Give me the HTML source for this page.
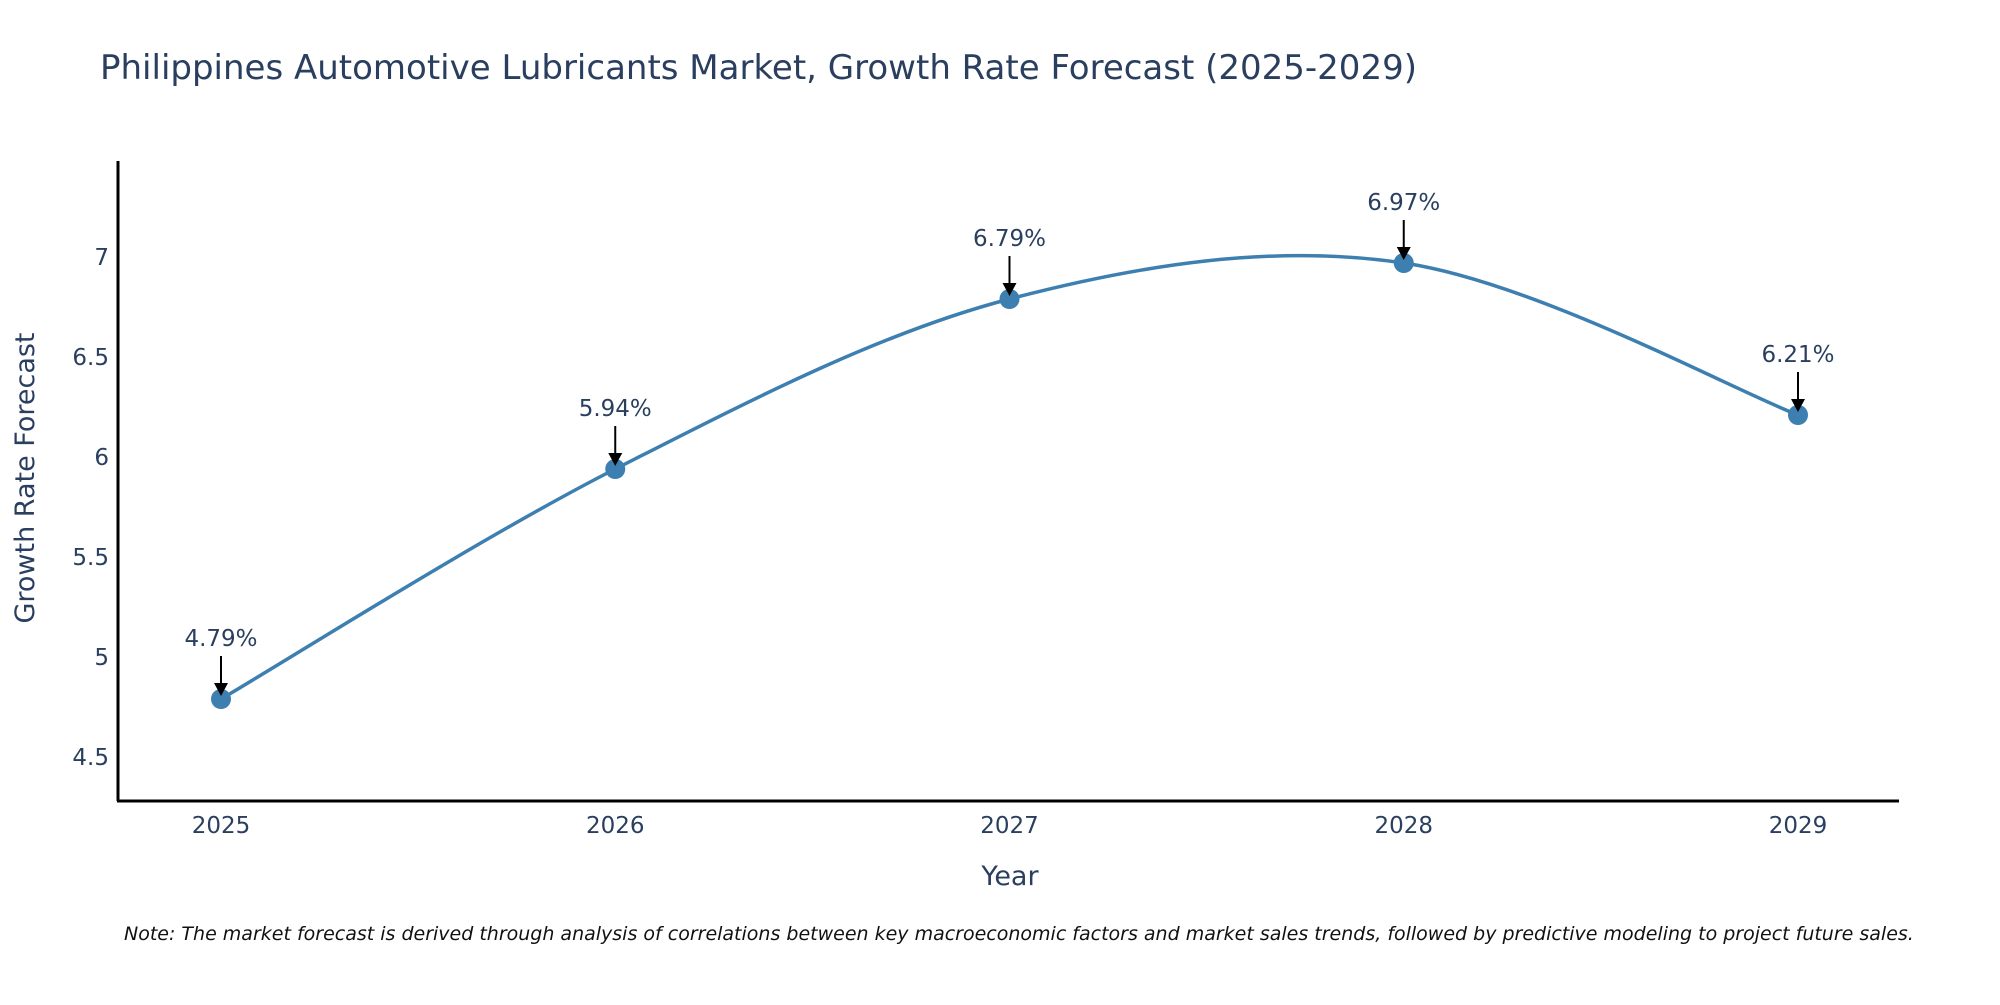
<!DOCTYPE html>
<html><head><meta charset="utf-8"><style>
body{margin:0;background:#fff;}
svg text{font-family:"DejaVu Sans","Liberation Sans",sans-serif;}
</style></head><body>
<svg id="chart" width="2000" height="1000" xmlns="http://www.w3.org/2000/svg">
<text x="100" y="79" font-size="34" fill="#2a3f5f">Philippines Automotive Lubricants Market, Growth Rate Forecast (2025-2029)</text>
<g id="yticks"></g>
<g id="xticks"></g>
<path id="line" fill="none" stroke="#3d7fb0" stroke-width="3.5"/>
<g id="points"></g>
<g id="annots"></g>
<line x1="118" y1="161" x2="118" y2="801" stroke="#000" stroke-width="3"/>
<line x1="117" y1="801" x2="1899" y2="801" stroke="#000" stroke-width="3"/>
<text transform="translate(34,478) rotate(-90)" text-anchor="middle" font-size="27" fill="#2a3f5f">Growth Rate Forecast</text>
<text x="1010" y="885" text-anchor="middle" font-size="27" fill="#2a3f5f">Year</text>
<text x="124" y="940" font-size="19" font-style="italic" fill="#111">Note: The market forecast is derived through analysis of correlations between key macroeconomic factors and market sales trends, followed by predictive modeling to project future sales.</text>
</svg>
<script>
const years = [2025, 2026, 2027, 2028, 2029];
const values = [4.79, 5.94, 6.79, 6.97, 6.21];
const labels = ["4.79%", "5.94%", "6.79%", "6.97%", "6.21%"];
const yTickValues = [4.5, 5, 5.5, 6, 6.5, 7];
const yTickLabels = ["4.5", "5", "5.5", "6", "6.5", "7"];

const NS = "http://www.w3.org/2000/svg";
function X(yr){ return 221 + (yr - 2025) * 394.25; }
function Y(v){ return 757 - (v - 4.5) * 200; }
function mk(tag, attrs, parent, txt){
  const e = document.createElementNS(NS, tag);
  for (const k in attrs) e.setAttribute(k, attrs[k]);
  if (txt !== undefined) e.textContent = txt;
  parent.appendChild(e); return e;
}
const yt = document.getElementById('yticks');
yTickValues.forEach((v,i)=>{
  const t = mk('text', {x:109, y:Y(v)+8, 'text-anchor':'end', 'font-size':23, fill:'#2a3f5f'}, yt, yTickLabels[i]);
  
  
});
const xt = document.getElementById('xticks');
years.forEach(yr=>{
  const t = mk('text', {x:X(yr), y:833, 'text-anchor':'middle', 'font-size':23, fill:'#2a3f5f'}, xt, String(yr));
  
  
});
const pts = years.map((yr,i)=>[X(yr), Y(values[i])]);
let d = `M${pts[0][0]},${pts[0][1]}`;
const s = 0.5;
for (let i=0;i<pts.length-1;i++){
  const p0 = pts[Math.max(0,i-1)], p1 = pts[i], p2 = pts[i+1], p3 = pts[Math.min(pts.length-1,i+2)];
  const c1 = [p1[0] + (p2[0]-p0[0])*s/3, p1[1] + (p2[1]-p0[1])*s/3];
  const c2 = [p2[0] - (p3[0]-p1[0])*s/3, p2[1] - (p3[1]-p1[1])*s/3];
  d += ` C${c1[0]},${c1[1]} ${c2[0]},${c2[1]} ${p2[0]},${p2[1]}`;
}
document.getElementById('line').setAttribute('d', d);
const pg = document.getElementById('points'), ag = document.getElementById('annots');
pts.forEach((p,i)=>{
  const c = mk('circle', {cx:p[0], cy:p[1], r:10, fill:'#3d7fb0'}, pg);
  
  
  const l = mk('line', {x1:p[0], y1:p[1]-43, x2:p[0], y2:p[1]-14, stroke:'#000', 'stroke-width':2}, ag);
  
  
  const h = mk('polygon', {points:`${p[0]-7},${p[1]-16} ${p[0]+7},${p[1]-16} ${p[0]},${p[1]-3}`, fill:'#000'}, ag);
  
  
  const t = mk('text', {x:p[0], y:p[1]-53, 'text-anchor':'middle', 'font-size':23, fill:'#2a3f5f'}, ag, labels[i]);
  
  
});
</script>
</body></html>
